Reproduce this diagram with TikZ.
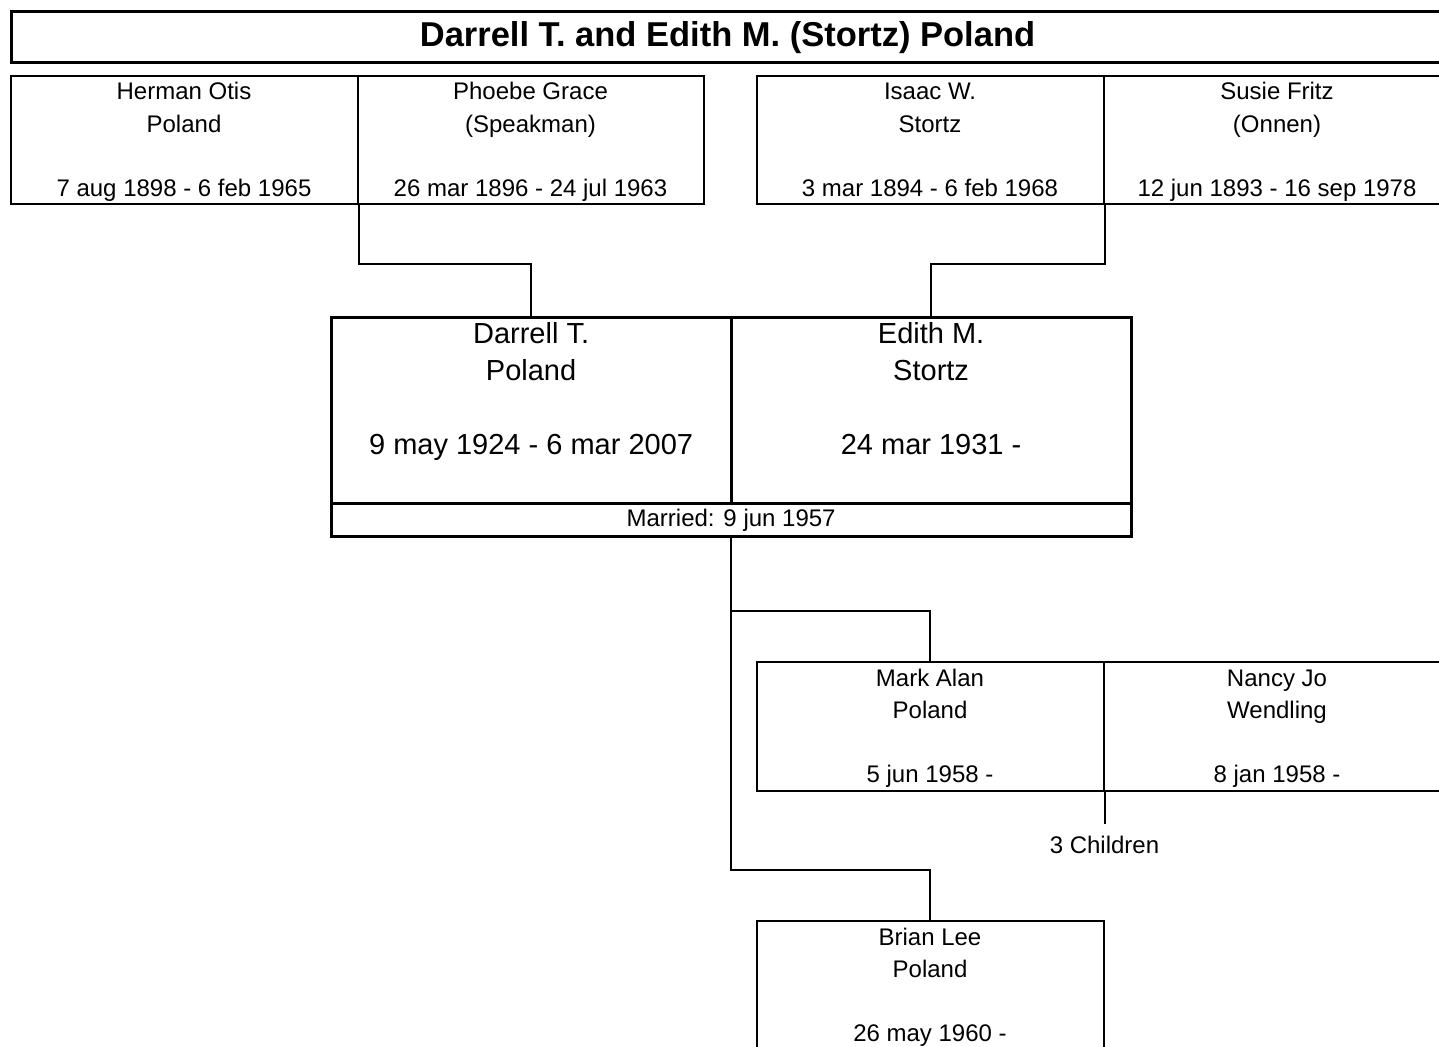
\documentclass[tikz,border=0pt]{standalone}
\usepackage{fontspec}
\setmainfont{Liberation Sans}
\usetikzlibrary{calc}
\tikzset{
  thinbox/.style={draw=black, line width=2pt, inner sep=0pt, anchor=north west, rectangle},
  thickbox/.style={draw=black, line width=3.2pt, inner sep=0pt, anchor=north west, rectangle},
  st/.style={anchor=base, inner sep=0pt, font=\fontsize{24}{28}\selectfont},
  bt/.style={anchor=base, inner sep=0pt, font=\fontsize{29}{34}\selectfont},
  tt/.style={anchor=base, inner sep=0pt, font=\fontsize{34.5}{40}\selectfont\bfseries},
  conn/.style={draw=black, line width=2pt},
}
\begin{document}
\begin{tikzpicture}[x=1pt, y=-1pt]
\clip (0,0) rectangle (1439,1046);
\fill[white] (0,0) rectangle (1439,1046);

% title
\node[thickbox, minimum width=1436pt, minimum height=51pt] (title) at (9.5,10) {};
\node[tt] (titletext) at (727.5,47) {Darrell T. and Edith M. (Stortz) Poland};

% grandparents
\node[thinbox, minimum width=347pt, minimum height=128pt] (ho) at (9.5,75) {};
\node[thinbox, minimum width=346pt, minimum height=128pt] (pg) at (356.5,75) {};
\node[thinbox, minimum width=347pt, minimum height=128pt] (iw) at (755.5,75) {};
\node[thinbox, minimum width=347pt, minimum height=128pt] (sf) at (1102.5,75) {};

\node[st] (ho1) at ($(ho.north)+(0,25)$) {Herman Otis};
\node[st] (ho2) at ($(ho.north)+(0,57)$) {Poland};
\node[st] (ho3) at ($(ho.north)+(0,121)$) {7 aug 1898 - 6 feb 1965};
\node[st] (pg1) at ($(pg.north)+(0,25)$) {Phoebe Grace};
\node[st] (pg2) at ($(pg.north)+(0,57)$) {(Speakman)};
\node[st] (pg3) at ($(pg.north)+(0,121)$) {26 mar 1896 - 24 jul 1963};
\node[st] (iw1) at ($(iw.north)+(0,25)$) {Isaac W.};
\node[st] (iw2) at ($(iw.north)+(0,57)$) {Stortz};
\node[st] (iw3) at ($(iw.north)+(0,121)$) {3 mar 1894 - 6 feb 1968};
\node[st] (sf1) at ($(sf.north)+(0,25)$) {Susie Fritz};
\node[st] (sf2) at ($(sf.north)+(0,57)$) {(Onnen)};
\node[st] (sf3) at ($(sf.north)+(0,121)$) {12 jun 1893 - 16 sep 1978};

% main couple
\node[thickbox, minimum width=400pt, minimum height=186pt] (dp) at (329.5,316) {};
\node[thickbox, minimum width=400pt, minimum height=186pt] (es) at (729.5,316) {};
\node[thickbox, minimum width=800pt, minimum height=33pt] (mar) at (329.5,502) {};

\node[bt] (dp1) at ($(dp.north)+(0,27)$) {Darrell T.};
\node[bt] (dp2) at ($(dp.north)+(0,64)$) {Poland};
\node[bt] (dp3) at ($(dp.north)+(0,138)$) {9 may 1924 - 6 mar 2007};
\node[bt] (es1) at ($(es.north)+(0,27)$) {Edith M.};
\node[bt] (es2) at ($(es.north)+(0,64)$) {Stortz};
\node[bt] (es3) at ($(es.north)+(0,138)$) {24 mar 1931 -};
\node[st] (mar1) at ($(mar.north)+(0,24)$) {Married: 9 jun 1957};

% children
\node[thinbox, minimum width=347pt, minimum height=129pt] (ma) at (755.5,661) {};
\node[thinbox, minimum width=347pt, minimum height=129pt] (nj) at (1102.5,661) {};
\node[thinbox, minimum width=347pt, minimum height=200pt] (bl) at (755.5,920) {};

\node[st] (ma1) at ($(ma.north)+(0,25)$) {Mark Alan};
\node[st] (ma2) at ($(ma.north)+(0,57)$) {Poland};
\node[st] (ma3) at ($(ma.north)+(0,121)$) {5 jun 1958 -};
\node[st] (nj1) at ($(nj.north)+(0,25)$) {Nancy Jo};
\node[st] (nj2) at ($(nj.north)+(0,57)$) {Wendling};
\node[st] (nj3) at ($(nj.north)+(0,121)$) {8 jan 1958 -};
\node[st] (bl1) at ($(bl.north)+(0,25)$) {Brian Lee};
\node[st] (bl2) at ($(bl.north)+(0,57)$) {Poland};
\node[st] (bl3) at ($(bl.north)+(0,121)$) {26 may 1960 -};

\coordinate (chend) at ($(ma.south east)+(0,32)$);
\node[st] (chtext) at ($(ma.south east)+(0,61)$) {3 Children};

% connectors
\draw[conn] (ho.south east) -- ++(0,59) -| (dp.north);
\draw[conn] (iw.south east) -- ++(0,59) -| (es.north);
\coordinate (j1) at ($(mar.south)+(0,73)$);
\draw[conn] (mar.south) -- ++(0,332) -| (bl.north);
\draw[conn] (j1) -| (ma.north);
\draw[conn] (ma.south east) -- (chend);
\end{tikzpicture}
\end{document}
